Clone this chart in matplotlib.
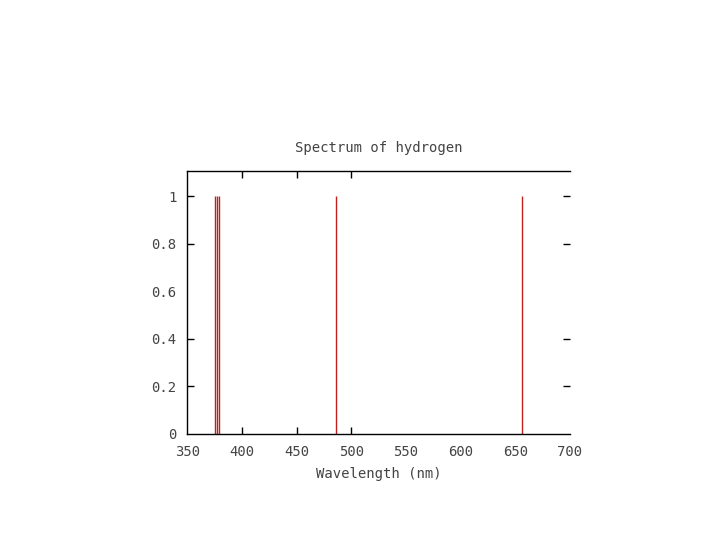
import matplotlib
matplotlib.use("Agg")
import matplotlib.pyplot as plt

wavelengths = [375, 377, 379, 486, 656]
intensities = [1, 1, 1, 1, 1]
xticks = [350, 400, 450, 500, 550, 600, 650, 700]
yticks = [0, 0.2, 0.4, 0.6, 0.8, 1]
ytick_labels = ["0", "0.2", "0.4", "0.6", "0.8", "1"]
x_marked = [400, 450, 500]
y_marked = [0.2, 0.4, 0.8, 1]

fig = plt.figure(figsize=(7.2, 5.4), dpi=100)
ax = fig.add_axes([0.2604, 0.1963, 0.5313, 0.487])

ax.vlines(wavelengths, 0, intensities, colors="#c02020", linewidth=1.0)

ax.set_xlim(350, 700)
ax.set_ylim(0, 1.105)
font = dict(family="DejaVu Sans Mono", fontsize=10, color="#444444")
ax.set_xticks(xticks)
ax.set_xticklabels([str(v) for v in xticks], **font)
ax.set_yticks(yticks)
ax.set_yticklabels(ytick_labels, **font)
ax.tick_params(axis="both", direction="in", length=5, width=1, pad=8,
               top=True, right=True, color="black")

for t, v in zip(ax.xaxis.get_major_ticks(), xticks):
    vis = v in x_marked
    t.tick1line.set_visible(vis)
    t.tick2line.set_visible(vis)
for t, v in zip(ax.yaxis.get_major_ticks(), yticks):
    vis = any(abs(v - m) < 1e-9 for m in y_marked)
    t.tick1line.set_visible(vis)
    t.tick2line.set_visible(vis)

ax.spines["right"].set_visible(False)
for s in ["left", "bottom", "top"]:
    ax.spines[s].set_linewidth(1.0)

ax.set_title("Spectrum of hydrogen", pad=14, **font)
ax.set_xlabel("Wavelength (nm)", labelpad=6, **font)

fig.savefig("out.png", dpi=100)
